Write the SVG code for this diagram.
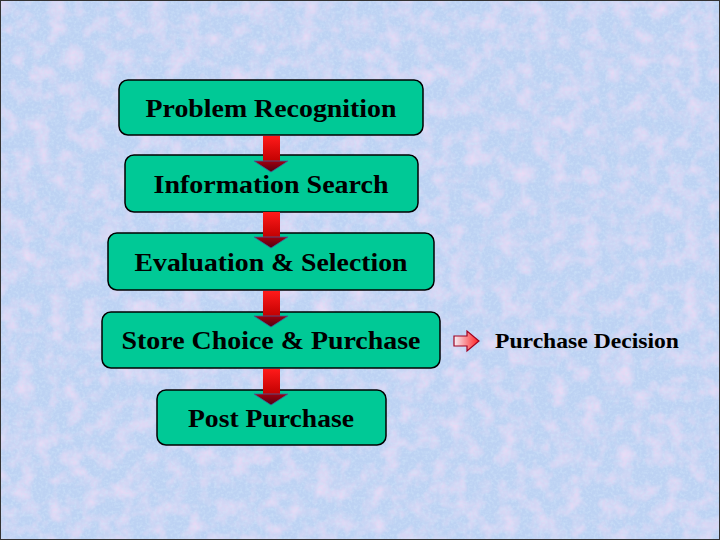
<svg xmlns="http://www.w3.org/2000/svg" width="720" height="540" viewBox="0 0 720 540">
<style>
.box{fill:#00c996;stroke:#000;stroke-width:1.5}
.lbl{font-family:"Liberation Serif","Times New Roman",serif;font-weight:bold;font-size:26px;fill:#000;text-anchor:middle}
.side{font-family:"Liberation Serif","Times New Roman",serif;font-weight:bold;font-size:22px;fill:#000}
</style>
<defs>
<filter id="tex" x="0" y="0" width="100%" height="100%">
<feTurbulence type="fractalNoise" baseFrequency="0.06" numOctaves="3" seed="4" result="n"/>
<feColorMatrix in="n" type="matrix" values="0 0 0 0 0.88  0 0 0 0 0.72  0 0 0 0 0.92  1.7 0 0 0 -0.7" result="pink"/>
<feTurbulence type="fractalNoise" baseFrequency="0.35" numOctaves="2" seed="9" result="n2"/>
<feColorMatrix in="n2" type="matrix" values="0 0 0 0 0.62  0 0 0 0 0.78  0 0 0 0 0.95  0 1.4 0 0 -0.6" result="blue"/>
<feMerge><feMergeNode in="SourceGraphic"/><feMergeNode in="pink"/><feMergeNode in="blue"/></feMerge>
</filter>
<linearGradient id="shaft" x1="0" y1="0" x2="0" y2="1">
<stop offset="0" stop-color="#ff1a1a"/><stop offset="1" stop-color="#c00000"/>
</linearGradient>
<linearGradient id="head" x1="0" y1="0" x2="0" y2="1">
<stop offset="0" stop-color="#a00010"/><stop offset="1" stop-color="#500010"/>
</linearGradient>
<linearGradient id="small" x1="0" y1="0" x2="1" y2="0">
<stop offset="0" stop-color="#f4f0f8"/><stop offset="1" stop-color="#ff2020"/>
</linearGradient>
<g id="dn">
<rect x="-8" y="0" width="17" height="26" fill="url(#shaft)"/>
<path d="M-17,25 L17,25 L0,36 Z" fill="url(#head)" stroke="#4060a0" stroke-width="0.8"/>
</g>
</defs>
<rect x="0" y="0" width="720" height="540" fill="#bdd2f3" filter="url(#tex)"/>
<rect x="0.5" y="0.5" width="719" height="539" fill="none" stroke="#333" stroke-width="1"/>

<g id="n1"><rect class="box" x="119" y="80" width="304" height="55" rx="9"/><text class="lbl" x="271" y="117" textLength="251" lengthAdjust="spacingAndGlyphs">Problem Recognition</text></g>
<g id="n2"><rect class="box" x="125" y="155" width="293" height="57" rx="9"/><text class="lbl" x="271" y="193" textLength="235" lengthAdjust="spacingAndGlyphs">Information Search</text></g>
<g id="n3"><rect class="box" x="108" y="233" width="326" height="57" rx="9"/><text class="lbl" x="271" y="271" textLength="273" lengthAdjust="spacingAndGlyphs">Evaluation &amp; Selection</text></g>
<g id="n4"><rect class="box" x="102" y="312" width="338" height="56" rx="9"/><text class="lbl" x="271" y="349" textLength="299" lengthAdjust="spacingAndGlyphs">Store Choice &amp; Purchase</text></g>
<g id="n5"><rect class="box" x="157" y="390" width="229" height="55" rx="9"/><text class="lbl" x="271" y="427" textLength="166" lengthAdjust="spacingAndGlyphs">Post Purchase</text></g>

<g id="connectors">
<use href="#dn" x="271" y="136"/>
<use href="#dn" x="271" y="212"/>
<use href="#dn" x="271" y="291"/>
<use href="#dn" x="271" y="369"/>
<path d="M454,336 L467,336 L467,331 L479,341 L467,351 L467,346 L454,346 Z" fill="url(#small)" stroke="#a00020" stroke-width="1.2"/>
</g>
<g id="decision"><text class="side" x="495" y="348" textLength="184" lengthAdjust="spacingAndGlyphs">Purchase Decision</text></g>
</svg>
